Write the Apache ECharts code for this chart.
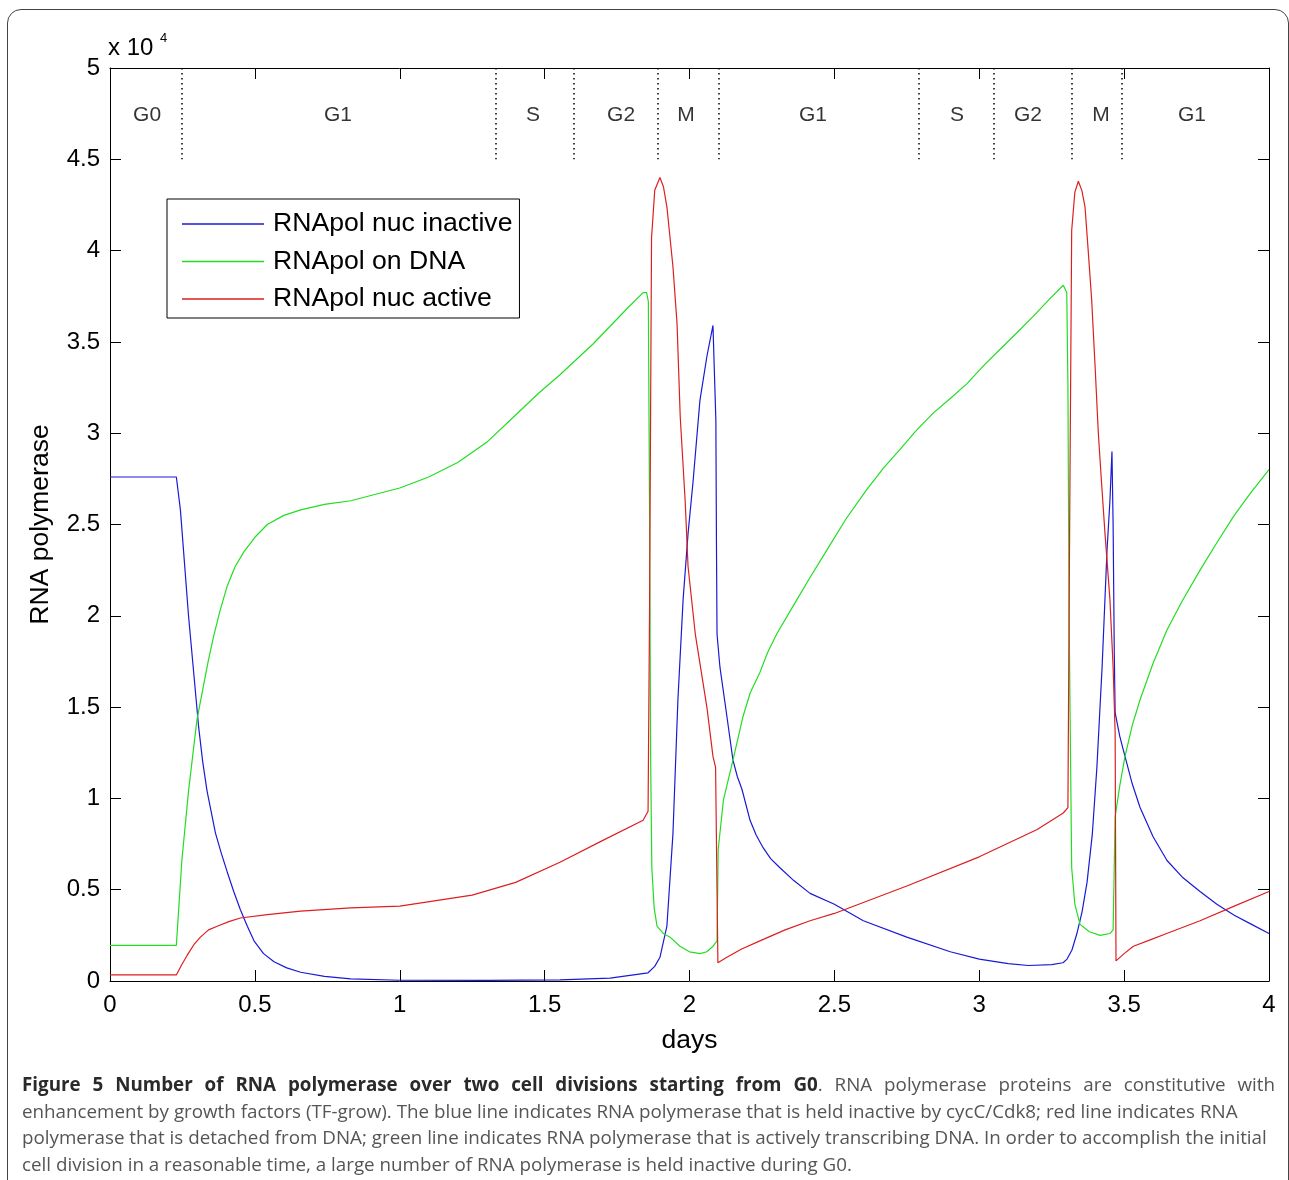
<!DOCTYPE html>
<html>
<head>
<meta charset="utf-8">
<script src="https://cdn.jsdelivr.net/npm/echarts@6/dist/echarts.min.js"></script>
<style>
html, body { margin: 0; padding: 0; background: #fff; overflow: hidden; width: 1289px; height: 1180px; }
#frame { position: absolute; left: 7px; top: 9px; width: 1282px; height: 1300px; border: 1.5px solid #444; border-radius: 14px; box-sizing: border-box; }
#chart { position: absolute; left: 0; top: 0; width: 1289px; height: 1180px; }
#caption { position: absolute; left: 22px; top: 1071px; width: 1253px; font-family: 'Open Sans', sans-serif; font-size: 18.8px; line-height: 26.6px; color: #555; white-space: nowrap; }
#caption div { height: 26.6px; }
#caption .first { text-align: justify; text-align-last: justify; }
#caption b { color: #2a2a2a; }
</style>
</head>
<body>
<div id="frame"></div>
<div id="chart"></div>
<div id="caption">
<div class="first"><b>Figure 5 Number of RNA polymerase over two cell divisions starting from G0</b>. RNA polymerase proteins are constitutive with</div>
<div>enhancement by growth factors (TF-grow). The blue line indicates RNA polymerase that is held inactive by cycC/Cdk8; red line indicates RNA</div>
<div>polymerase that is detached from DNA; green line indicates RNA polymerase that is actively transcribing DNA. In order to accomplish the initial</div>
<div>cell division in a reasonable time, a large number of RNA polymerase is held inactive during G0.</div>
</div>
<script>
// ---- 数据 (单位: x10^4) ----
const seriesNames = ['RNApol nuc inactive', 'RNApol on DNA', 'RNApol nuc active'];
const seriesColors = ['#1a1ad6', '#22dd22', '#dd1f1f'];

// [days, value]
const nucInactive = [
  [0, 2.76], [0.229, 2.76], [0.243, 2.58], [0.271, 2.00], [0.306, 1.39], [0.320, 1.20], [0.335, 1.04],
  [0.364, 0.81], [0.384, 0.70], [0.404, 0.60], [0.427, 0.49], [0.450, 0.39], [0.474, 0.30], [0.497, 0.22],
  [0.530, 0.15], [0.566, 0.105], [0.610, 0.072], [0.658, 0.048], [0.74, 0.025], [0.831, 0.012], [1.0, 0.004],
  [1.3, 0.003], [1.553, 0.006], [1.726, 0.016], [1.857, 0.045], [1.880, 0.08], [1.898, 0.13], [1.922, 0.30],
  [1.943, 0.81], [1.960, 1.54], [1.978, 2.09], [1.995, 2.45], [2.012, 2.73], [2.036, 3.18], [2.060, 3.42],
  [2.081, 3.59], [2.091, 3.07], [2.093, 2.40], [2.095, 1.90], [2.105, 1.72], [2.129, 1.45], [2.150, 1.21],
  [2.165, 1.12], [2.181, 1.05], [2.209, 0.88], [2.230, 0.80], [2.254, 0.73], [2.280, 0.67], [2.312, 0.62],
  [2.36, 0.55], [2.416, 0.48], [2.5, 0.42], [2.6, 0.33], [2.75, 0.24], [2.9, 0.16], [3.0, 0.12], [3.1, 0.095],
  [3.17, 0.085], [3.25, 0.09], [3.289, 0.10], [3.303, 0.12], [3.320, 0.17], [3.337, 0.26], [3.355, 0.38],
  [3.372, 0.54], [3.390, 0.80], [3.406, 1.17], [3.424, 1.72], [3.441, 2.36], [3.451, 2.63], [3.458, 2.90],
  [3.462, 2.50], [3.466, 1.80], [3.469, 1.47], [3.485, 1.34], [3.503, 1.23], [3.528, 1.08], [3.555, 0.95],
  [3.600, 0.79], [3.648, 0.66], [3.700, 0.57], [3.762, 0.49], [3.82, 0.42], [3.88, 0.36], [3.94, 0.31], [4.0, 0.26]
];

const onDna = [
  [0, 0.195], [0.229, 0.195], [0.248, 0.66], [0.271, 1.04], [0.300, 1.43], [0.323, 1.62], [0.340, 1.76],
  [0.358, 1.89], [0.380, 2.03], [0.404, 2.16], [0.432, 2.27], [0.462, 2.35], [0.500, 2.43], [0.543, 2.50],
  [0.600, 2.55], [0.658, 2.58], [0.74, 2.61], [0.831, 2.63], [1.0, 2.70], [1.1, 2.76], [1.2, 2.84],
  [1.3, 2.95], [1.4, 3.10], [1.48, 3.22], [1.553, 3.32], [1.668, 3.49], [1.783, 3.68], [1.840, 3.77],
  [1.852, 3.77], [1.858, 3.72], [1.862, 2.60], [1.866, 1.20], [1.870, 0.62], [1.878, 0.40], [1.888, 0.30],
  [1.910, 0.26], [1.933, 0.24], [1.967, 0.19], [2.000, 0.16], [2.036, 0.15], [2.060, 0.16], [2.081, 0.19],
  [2.095, 0.22], [2.099, 0.72], [2.117, 0.99], [2.150, 1.21], [2.185, 1.45], [2.210, 1.58], [2.243, 1.69],
  [2.270, 1.80], [2.301, 1.90], [2.36, 2.06], [2.416, 2.21], [2.474, 2.36], [2.54, 2.53], [2.611, 2.69],
  [2.67, 2.81], [2.726, 2.91], [2.78, 3.01], [2.841, 3.11], [2.90, 3.19], [2.957, 3.27], [3.015, 3.37],
  [3.072, 3.46], [3.13, 3.55], [3.186, 3.64], [3.24, 3.73], [3.290, 3.81], [3.302, 3.77], [3.306, 3.27],
  [3.310, 2.00], [3.319, 0.62], [3.330, 0.42], [3.348, 0.31], [3.380, 0.27], [3.417, 0.25], [3.451, 0.26],
  [3.462, 0.28], [3.469, 0.90], [3.485, 1.07], [3.503, 1.23], [3.528, 1.40], [3.555, 1.54], [3.600, 1.74],
  [3.647, 1.92], [3.70, 2.08], [3.762, 2.25], [3.82, 2.40], [3.88, 2.55], [3.94, 2.68], [4.0, 2.80]
];

const nucActive = [
  [0, 0.033], [0.229, 0.033], [0.248, 0.09], [0.266, 0.14], [0.290, 0.20], [0.312, 0.24], [0.340, 0.28],
  [0.370, 0.30], [0.410, 0.325], [0.450, 0.345], [0.543, 0.364], [0.658, 0.383], [0.831, 0.40], [1.0, 0.41],
  [1.25, 0.47], [1.4, 0.54], [1.553, 0.65], [1.701, 0.77], [1.840, 0.88], [1.857, 0.93], [1.862, 2.0],
  [1.867, 3.5], [1.869, 4.07], [1.880, 4.33], [1.898, 4.40], [1.910, 4.35], [1.922, 4.24], [1.943, 3.91],
  [1.957, 3.60], [1.968, 3.09], [1.985, 2.63], [1.995, 2.27], [2.020, 1.90], [2.060, 1.50], [2.081, 1.23],
  [2.090, 1.17], [2.095, 0.5], [2.098, 0.10], [2.129, 0.13], [2.18, 0.175], [2.243, 0.22], [2.33, 0.28],
  [2.416, 0.33], [2.5, 0.37], [2.75, 0.52], [3.0, 0.68], [3.2, 0.83], [3.290, 0.92], [3.306, 0.95],
  [3.312, 2.5], [3.319, 4.11], [3.330, 4.32], [3.342, 4.38], [3.354, 4.33], [3.365, 4.24], [3.376, 4.0],
  [3.388, 3.73], [3.400, 3.36], [3.411, 3.0], [3.422, 2.73], [3.434, 2.45], [3.451, 2.09], [3.462, 1.72],
  [3.469, 1.36], [3.472, 0.11], [3.500, 0.15], [3.532, 0.19], [3.590, 0.225], [3.647, 0.26], [3.762, 0.33],
  [3.88, 0.41], [4.0, 0.49]
];

// 细胞周期分段
const phaseBounds = [0.249, 1.330, 1.601, 1.889, 2.100, 2.790, 3.051, 3.318, 3.491];
const phaseNames = ['G0', 'G1', 'S', 'G2', 'M', 'G1', 'S', 'G2', 'M', 'G1'];
const phaseMids = [0.128, 0.787, 1.46, 1.764, 1.988, 2.426, 2.923, 3.168, 3.42, 3.734];

const FONT = '"Liberation Sans", Arial, sans-serif';

// ---- 坐标轴辅助 ----
function boxAxis(extra) {
  return Object.assign({
    type: 'value',
    axisLine: { show: true, onZero: false, lineStyle: { color: '#000', width: 1 } },
    axisTick: { show: true, inside: true, length: 11, lineStyle: { color: '#000', width: 1 } },
    splitLine: { show: false },
    axisLabel: { show: false }
  }, extra);
}
const labelStyle = { show: true, fontFamily: FONT, fontSize: 24, color: '#000' };
const nameStyle = { fontFamily: FONT, fontSize: 26.5, color: '#000' };

const chart = echarts.init(document.getElementById('chart'), null, { renderer: 'canvas' });

const lineSeries = [nucInactive, onDna, nucActive].map((d, i) => ({
  name: seriesNames[i],
  type: 'line',
  data: d,
  showSymbol: false,
  symbol: 'none',
  lineStyle: { color: seriesColors[i], width: 1.2 },
  itemStyle: { color: seriesColors[i] },
  z: 3 + i
}));

chart.setOption({
  animation: false,
  backgroundColor: 'transparent',
  grid: { left: 110, right: 20, top: 68, bottom: 199 },
  legend: {
    data: seriesNames,
    orient: 'vertical',
    left: 167, top: 199,
    icon: 'rect',
    itemWidth: 82, itemHeight: 1.5,
    itemGap: 9.5,
    selectedMode: false,
    backgroundColor: '#fff',
    borderColor: '#000', borderWidth: 1, borderRadius: 0,
    padding: [11, 7, 5, 15],
    textStyle: { fontFamily: FONT, fontSize: 26.6, color: '#000', lineHeight: 28, padding: [0, 0, 0, 4] }
  },
  xAxis: [
    boxAxis({
      min: 0, max: 4, interval: 0.5, position: 'bottom',
      name: 'days', nameLocation: 'middle', nameGap: 46, nameTextStyle: nameStyle,
      axisLabel: Object.assign({ margin: 12 }, labelStyle)
    }),
    boxAxis({ min: 0, max: 4, interval: 0.5, position: 'top' })
  ],
  yAxis: [
    boxAxis({
      min: 0, max: 5, interval: 0.5, position: 'left',
      name: 'RNA polymerase', nameLocation: 'middle', nameGap: 56, nameRotate: 90, nameTextStyle: nameStyle,
      axisLabel: Object.assign({ margin: 10 }, labelStyle)
    }),
    boxAxis({ min: 0, max: 5, interval: 0.5, position: 'right' })
  ],
  graphic: [
    { type: 'text', left: 108, top: 36, style: { text: 'x 10', font: '24px ' + FONT, fill: '#000' } },
    { type: 'text', left: 160, top: 32, style: { text: '4', font: '13px ' + FONT, fill: '#000' } }
  ],
  series: lineSeries.concat([{
    name: 'phases',
    type: 'scatter',
    silent: true,
    symbolSize: 1,
    itemStyle: { color: 'transparent' },
    data: phaseMids.map((d, i) => ({ value: [d, 4.74], name: phaseNames[i] })),
    label: { show: true, position: 'inside', formatter: '{b}', fontFamily: FONT, fontSize: 21, color: '#000' },
    markLine: {
      silent: true,
      symbol: ['none', 'none'],
      label: { show: false },
      lineStyle: { type: [1.5, 3.5], color: '#000', width: 1.5 },
      data: phaseBounds.map(d => [{ coord: [d, 5] }, { coord: [d, 4.5] }])
    }
  }])
});
</script>
</body>
</html>
